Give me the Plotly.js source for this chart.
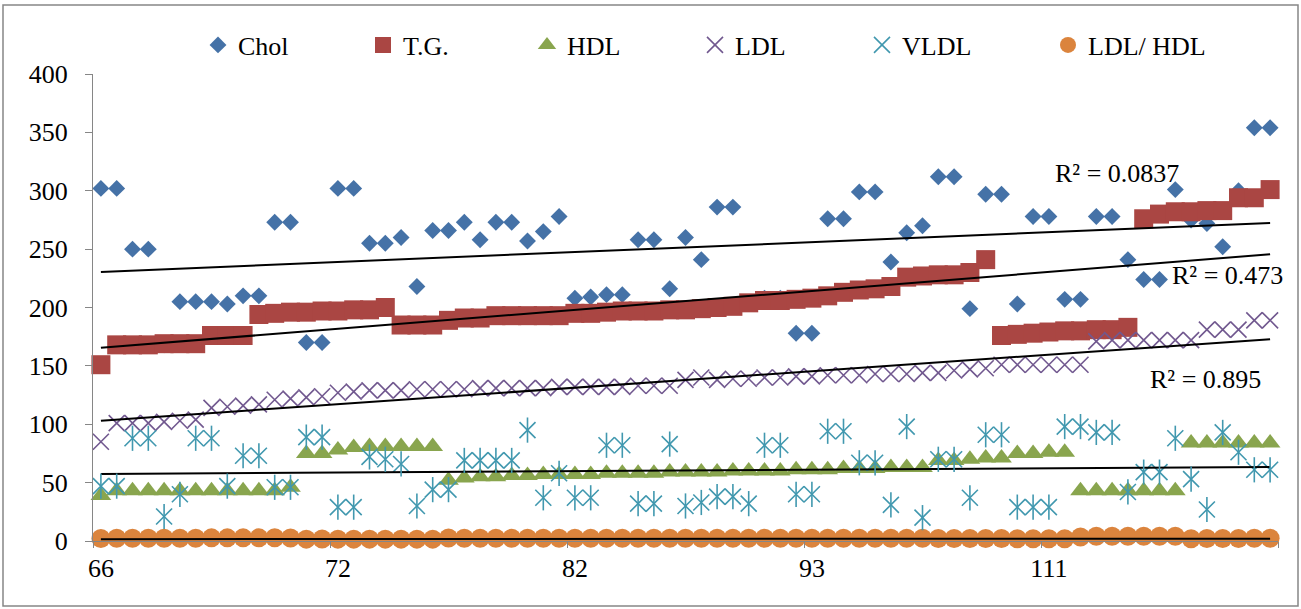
<!DOCTYPE html>
<html><head><meta charset="utf-8">
<script src="https://cdn.plot.ly/plotly-3.0.1.min.js"></script>
<style>html,body{margin:0;padding:0;background:#fff}#chart{width:1301px;height:609px}</style>
</head><body><div id="chart"></div>
<script>
// x category tick labels (every 15th category is labelled)
const xLabelIdx = [0, 15, 30, 45, 60];
const xLabels = ['66', '72', '82', '93', '111'];

const chol = [302,302,250,250,168,205,205,205,203,210,210,273,273,170,170,302,302,255,255,260,218,266,266,273,258,273,273,257,265,278,208,209,211,211,258,258,216,260,241,286,286,204,208,208,178,178,276,276,299,299,239,264,270,312,312,199,297,297,203,278,278,207,207,278,278,241,224,224,301,275,272,252,300,354,354];
const tg = [151,168,168,168,169,169,169,176,176,176,194,195,196,196,197,197,198,198,200,185,185,185,189,191,191,193,193,193,193,193,195,195,196,197,197,197,198,198,199,200,201,204,206,206,207,208,210,213,215,216,218,226,227,228,228,230,241,176,177,178,179,180,180,181,181,183,276,280,282,282,283,283,294,294,301];
const hdl = [39,43,43,43,43,43,43,43,43,43,43,43,46,75,75,78,80,81,81,81,81,81,52,54,55,55,56,56,57,57,57,57,58,58,58,58,59,59,59,59,60,60,60,60,61,61,61,62,62,62,63,63,63,69,69,70,71,71,75,75,76,76,43,43,43,43,43,43,43,84,84,84,84,84,84];
const ldl = [85,101,101,101,102,103,104,114,115,116,117,121,122,123,124,127,128,129,129,129,130,130,130,130,131,131,131,131,131,132,132,132,132,132,133,133,133,138,140,138,139,139,140,140,141,141,142,142,142,143,143,143,144,144,146,147,148,151,151,151,151,151,151,171,172,172,172,172,172,172,181,181,181,189,189];
const vldl = [47,47,88,88,21,40,88,88,47,73,73,46,46,89,89,29,29,72,70,66,30,44,44,69,69,69,69,95,37,58,37,37,82,82,32,32,83,30,33,38,38,32,82,82,40,40,94,94,67,67,31,98,20,70,70,37,91,91,29,29,29,98,98,93,93,42,59,59,88,53,27,93,76,61,61];
const ldlHdl = [2.2,2.3,2.3,2.3,2.4,2.4,2.4,2.7,2.7,2.7,2.7,2.8,2.6,1.6,1.7,1.6,1.6,1.6,1.6,1.6,1.6,1.6,2.5,2.4,2.4,2.4,2.3,2.3,2.3,2.3,2.3,2.3,2.3,2.3,2.3,2.3,2.3,2.3,2.4,2.3,2.3,2.3,2.3,2.3,2.3,2.3,2.3,2.3,2.3,2.3,2.3,2.3,2.3,2.1,2.1,2.1,2.1,2.1,2.0,2.0,2.0,2.0,3.5,4.0,4.0,4.0,4.0,4.0,4.0,2.0,2.2,2.2,2.2,2.3,2.3];

// linear trend lines: values at first and last category
const cholTrend = [230.5, 272.4];
const tgTrend = [165.5, 245.6];
const ldlTrend = [103.0, 172.8];
const hdlTrend = [57.4, 63.4];
const ratioTrend = [1.6, 2.0];
const r2Labels = ['R² = 0.0837', 'R² = 0.473', 'R² = 0.895'];

const idx = chol.map((_, i) => i);
const ends = [0, idx.length - 1];
const FONT = '"Liberation Serif", "Times New Roman", serif';

function pts(name, y, marker, lw, extra) {
  return Object.assign({type: 'scatter', mode: 'markers', name: name, x: idx, y: y, marker: marker,
                        legendwidth: lw, cliponaxis: false, hoverinfo: 'skip'}, extra || {});
}
function trend(y) {
  return {type: 'scatter', mode: 'lines', x: ends, y: y, line: {color: '#000', width: 2},
          cliponaxis: false, showlegend: false, hoverinfo: 'skip'};
}

const traces = [
  pts('Chol', chol, {symbol: 'diamond', size: 13, color: '#4572A7'}, 120),
  pts('T.G.', tg, {symbol: 'square', size: 19, color: '#AA4643'}, 119),
  pts('HDL', hdl, {symbol: 'triangle-up', size: 18, color: '#89A54E'}, 123),
  pts('LDL', ldl, {symbol: 'x-thin-open', size: 16, color: '#71588F', line: {width: 1.6, color: '#71588F'}}, 122),
  pts('VLDL', vldl, {symbol: 'x-thin-open', size: 16, color: '#4198AF', line: {width: 1.6, color: '#4198AF'}}, 141),
  pts('VLDL', vldl, {symbol: 'line-ns-open', size: 18, color: '#4198AF', line: {width: 1.6, color: '#4198AF'}}, 10, {showlegend: false, xaxis: 'x2'}),
  pts('LDL/ HDL', ldlHdl, {symbol: 'circle', size: 19, color: '#DB843D'}, 130),
  trend(cholTrend), trend(tgTrend), trend(ldlTrend), trend(hdlTrend), trend(ratioTrend)
];

const L = 93, R = 1278, T = 74, B = 541, W = 1301, H = 609;
const px = v => (v - L) / (R - L);
const py = v => (B - v) / (B - T);
const xr = [-0.5, idx.length - 0.5];
const boundaries = xLabelIdx.map(v => v - 0.5).concat([idx.length - 0.5]);

const layout = {
  width: W, height: H,
  margin: {l: L, r: W - R, t: T, b: H - B, pad: 0},
  paper_bgcolor: '#fff', plot_bgcolor: '#fff',
  font: {family: FONT, size: 26, color: '#000'},
  showlegend: true,
  legend: {orientation: 'h', x: px(198), xanchor: 'left', y: py(45), yanchor: 'middle',
           font: {family: FONT, size: 26, color: '#000'},
           bgcolor: 'rgba(0,0,0,0)', itemclick: false},
  xaxis: {range: xr, tickmode: 'array', tickvals: xLabelIdx, ticktext: xLabels, ticks: '',
          showline: true, linecolor: '#868686', linewidth: 1, showgrid: false, zeroline: false,
          ticklabelstandoff: 4, tickfont: {family: FONT, size: 26, color: '#000'}},
  xaxis2: {range: xr, overlaying: 'x', anchor: 'y', side: 'bottom', tickmode: 'array', tickvals: boundaries,
           ticks: 'outside', ticklen: 6, tickcolor: '#868686', tickwidth: 1, showticklabels: false,
           showline: false, showgrid: false, zeroline: false},
  yaxis: {range: [0, 400], tickmode: 'linear', tick0: 0, dtick: 50, ticks: 'outside', ticklen: 7,
          tickcolor: '#868686', tickwidth: 1, showline: true, linecolor: '#868686', linewidth: 1,
          showgrid: false, zeroline: false, ticklabelstandoff: 12,
          tickfont: {family: FONT, size: 26, color: '#000'}},
  shapes: [{type: 'rect', xref: 'paper', yref: 'paper', x0: px(3), x1: px(1298), y0: py(606), y1: py(5),
            line: {color: '#868686', width: 1.5}, fillcolor: 'rgba(0,0,0,0)', layer: 'below'}],
  annotations: [
    {text: r2Labels[0], xref: 'paper', yref: 'paper', x: px(1053), y: py(173), xanchor: 'left', yanchor: 'middle', showarrow: false, font: {family: FONT, size: 26, color: '#000'}},
    {text: r2Labels[1], xref: 'paper', yref: 'paper', x: px(1170), y: py(275), xanchor: 'left', yanchor: 'middle', showarrow: false, font: {family: FONT, size: 26, color: '#000'}},
    {text: r2Labels[2], xref: 'paper', yref: 'paper', x: px(1148), y: py(379), xanchor: 'left', yanchor: 'middle', showarrow: false, font: {family: FONT, size: 26, color: '#000'}}
  ]
};

Plotly.newPlot('chart', traces, layout, {displayModeBar: false, staticPlot: true});
</script>
</body></html>
